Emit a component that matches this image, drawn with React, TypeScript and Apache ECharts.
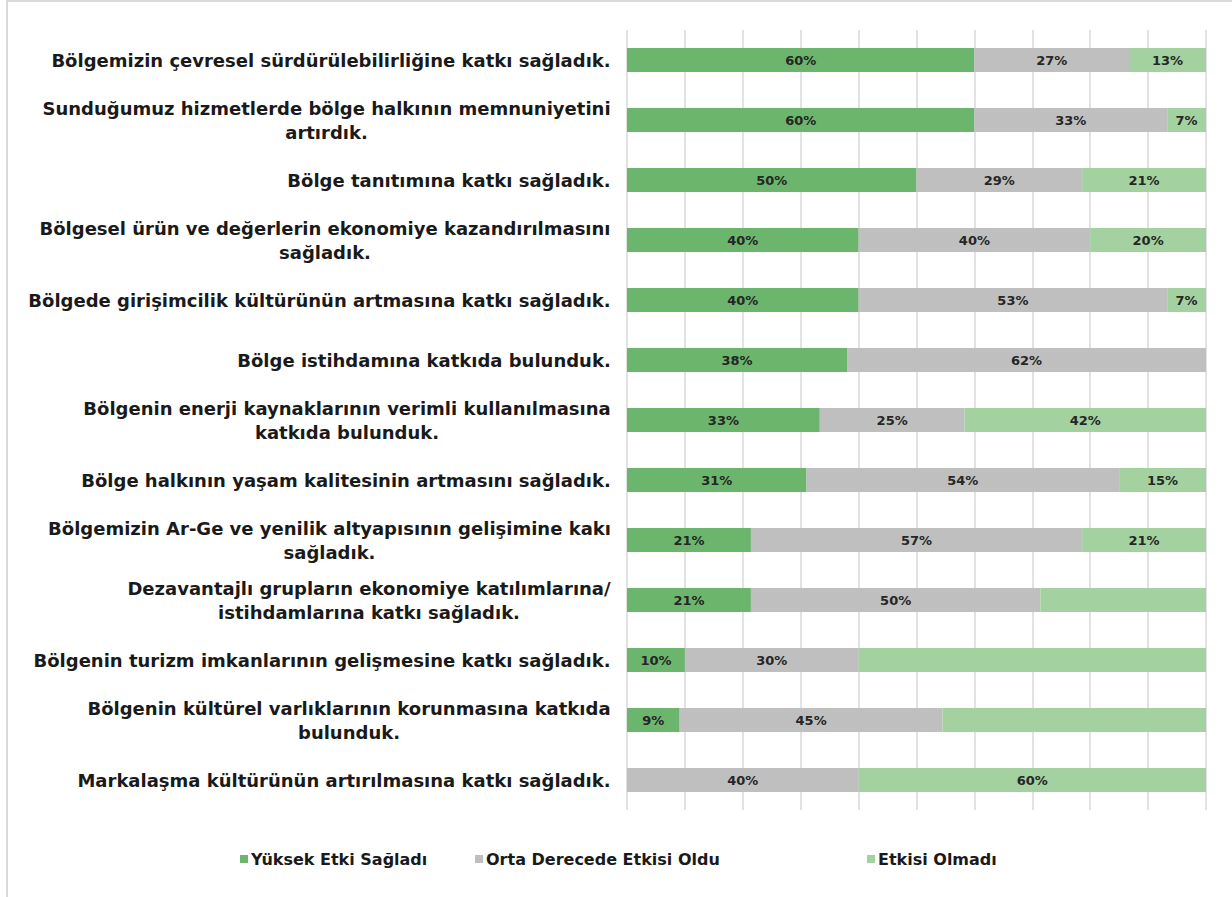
import React, { useEffect, useRef } from "react";
import * as echarts from "echarts";

const categories: string[] = [
  "Bölgemizin çevresel sürdürülebilirliğine katkı sağladık.",
  "Sunduğumuz hizmetlerde bölge halkının memnuniyetini\nartırdık.",
  "Bölge tanıtımına katkı sağladık.",
  "Bölgesel ürün ve değerlerin ekonomiye kazandırılmasını\nsağladık.",
  "Bölgede girişimcilik kültürünün artmasına katkı sağladık.",
  "Bölge istihdamına katkıda bulunduk.",
  "Bölgenin enerji kaynaklarının verimli kullanılmasına\nkatkıda bulunduk.",
  "Bölge halkının yaşam kalitesinin artmasını sağladık.",
  "Bölgemizin Ar-Ge ve yenilik altyapısının gelişimine kakı\nsağladık.",
  "Dezavantajlı grupların ekonomiye katılımlarına/\nistihdamlarına katkı sağladık.",
  "Bölgenin turizm imkanlarının gelişmesine katkı sağladık.",
  "Bölgenin kültürel varlıklarının korunmasına katkıda\nbulunduk.",
  "Markalaşma kültürünün artırılmasına katkı sağladık.",
];

const seriesNames: string[] = [
  "Yüksek Etki Sağladı",
  "Orta Derecede Etkisi Oldu",
  "Etkisi Olmadı",
];

const highValues: number[] = [60, 60, 50, 40, 40, 38, 33.3, 31, 21.4, 21.4, 10, 9.1, 0];
const midValues: number[] = [26.7, 33.3, 28.6, 40, 53.3, 62, 25, 54, 57.2, 50, 30, 45.4, 40];
const noneValues: number[] = [13.3, 6.7, 21.4, 20, 6.7, 0, 41.7, 15, 21.4, 28.6, 60, 45.5, 60];
// rows whose "Etkisi Olmadı" value carries no label in the original
const noneUnlabelled: number[] = [9, 10, 11];

const colors: string[] = ["#6BB56D", "#BFBFBF", "#A3D1A0"];

const FONT_FAMILY = "'DejaVu Sans', sans-serif";
const LABEL_SIZE = 18;
const LABEL_WEIGHT = "bold";

export default function App() {
  const ref = useRef<HTMLDivElement>(null);

  useEffect(() => {
    if (!ref.current) return;
    const chart = echarts.init(ref.current, undefined, { renderer: "svg" });

    const canvas = document.createElement("canvas");
    const ctx = canvas.getContext("2d")!;
    ctx.font = `${LABEL_WEIGHT} ${LABEL_SIZE}px ${FONT_FAMILY}`;
    const rich: Record<string, any> = {};
    categories.forEach((c, i) => {
      const lines = c.split("\n");
      const w = Math.max(...lines.map((l) => ctx.measureText(l).width));
      rich["l" + i] = {
        width: Math.ceil(w) + 2,
        align: "center",
        fontSize: LABEL_SIZE,
        fontWeight: LABEL_WEIGHT,
        fontFamily: FONT_FAMILY,
        color: "#1a1a1a",
        lineHeight: 24,
      };
    });

    const dataLabel = {
      show: true,
      position: "inside",
      color: "#262626",
      fontFamily: FONT_FAMILY,
      fontWeight: "bold",
      fontSize: 13,
      formatter: (p: any) => (p.value ? Math.round(p.value) + "%" : ""),
    };

    const valuesList = [highValues, midValues, noneValues];
    const legendLefts = [240, 475, 867];

    chart.setOption({
      animation: false,
      backgroundColor: "#ffffff",
      grid: { left: 627, right: 26, top: 30, bottom: 87, containLabel: false },
      legend: seriesNames.map((name, i) => ({
        top: 851,
        left: legendLefts[i],
        padding: 0,
        itemWidth: 8,
        itemHeight: 8,
        icon: "rect",
        textStyle: {
          fontFamily: FONT_FAMILY,
          fontSize: 16,
          fontWeight: "bold",
          color: "#1a1a1a",
          padding: [0, 0, 0, -2],
        },
        data: [name],
      })),
      xAxis: {
        type: "value",
        min: 0,
        max: 100,
        interval: 10,
        axisLabel: { show: false },
        axisLine: { show: false },
        axisTick: { show: false },
        splitLine: { show: true, lineStyle: { color: "#D9D9D9", width: 1.5 } },
      },
      yAxis: {
        type: "category",
        inverse: true,
        data: categories,
        axisLine: { show: false },
        axisTick: { show: false },
        axisLabel: {
          margin: 15,
          align: "right",
          rich,
          formatter: (value: string, idx: number) =>
            value
              .split("\n")
              .map((l) => `{l${idx}|${l}}`)
              .join("\n"),
        },
      },
      graphic: [
        { type: "line", shape: { x1: 7, y1: 0, x2: 7, y2: 897 }, style: { stroke: "#D9D9D9", lineWidth: 2 } },
        { type: "line", shape: { x1: 7, y1: 1, x2: 1232, y2: 1 }, style: { stroke: "#D9D9D9", lineWidth: 2 } },
      ],
      series: seriesNames.map((name, s) => ({
        name,
        type: "bar",
        stack: "total",
        barWidth: 24,
        itemStyle: { color: colors[s] },
        label: dataLabel,
        data: valuesList[s].map((v, i) =>
          s === 2 && noneUnlabelled.includes(i) ? { value: v, label: { show: false } } : v
        ),
      })),
    });

    return () => chart.dispose();
  }, []);

  return (
    <div
      ref={ref}
      style={{ position: "absolute", left: 0, top: 0, width: 1232, height: 897 }}
    />
  );
}
